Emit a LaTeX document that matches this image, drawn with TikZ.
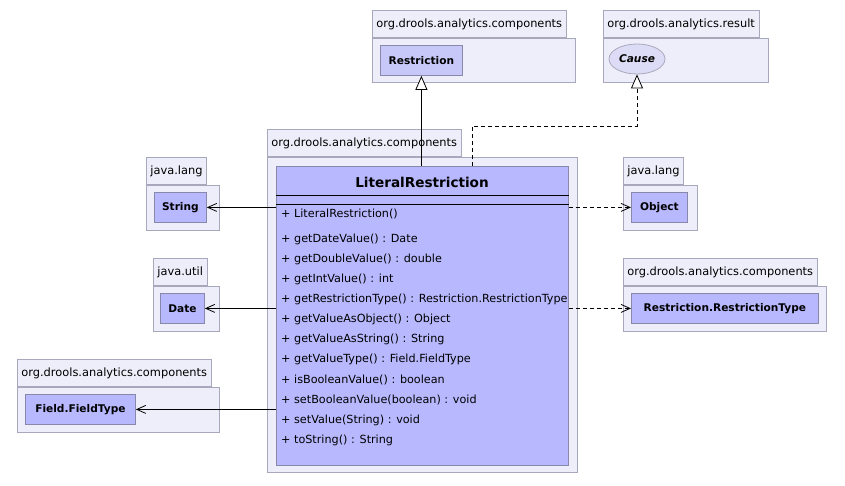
\documentclass[tikz,border=0pt]{standalone}
\usepackage{fontspec}
\setmainfont{DejaVu Sans}
\usepackage{xcolor}
\usetikzlibrary{arrows.meta,positioning,shapes.geometric}
\definecolor{pkgfill}{HTML}{EEEEFA}
\definecolor{pkgline}{HTML}{A8A8BC}
\definecolor{clsfill}{HTML}{B8B8FF}
\definecolor{clsline}{HTML}{8888AA}
\definecolor{supfill}{HTML}{C8C8F8}
\definecolor{ifcfill}{HTML}{DCDCF6}
\tikzset{
  pkgbody/.style={draw=pkgline, fill=pkgfill, line width=0.8pt, anchor=north west, inner sep=0pt},
  pkgtab/.style={draw=pkgline, fill=pkgfill, line width=0.8pt, anchor=south west,
    minimum height=27pt, inner xsep=4pt, font=\fontsize{11.4}{13}\selectfont},
  cls/.style={draw=clsline, fill=clsfill, line width=0.8pt, anchor=north west,
    minimum height=30pt, inner sep=0pt, font=\fontsize{10.6}{12}\selectfont\bfseries},
  ifc/.style={draw=pkgline, fill=ifcfill, line width=0.8pt, ellipse, inner sep=0pt,
    font=\fontsize{10.6}{12}\selectfont\bfseries\itshape},
  member/.style={anchor=west, inner sep=0pt, font=\fontsize{11.2}{13}\selectfont},
  assoc/.style={draw, line width=0.8pt, -{Straight Barb[length=9pt,width=8pt]}},
  dep/.style={assoc, dash pattern=on 4pt off 3pt},
  gen/.style={draw, line width=0.8pt, -{Triangle[open, length=14pt, width=12pt, fill=white]}},
  real/.style={gen, dash pattern=on 4pt off 3pt}
}
% #1 = name, #2/#3 = top left of body, #4 = width, #5 = height, #6 = package name
\newcommand{\PkgBox}[6]{%
  \node[pkgbody, minimum width=#4pt, minimum height=#5pt] (#1) at (#2,#3) {};
  \node[pkgtab] (#1tab) at (#1.north west) {#6};
}
\begin{document}
\begin{tikzpicture}[x=1pt, y=-1pt, line cap=butt, line join=miter]
  \useasboundingbox (0,0) rectangle (845,485);
  % packages
  \PkgBox{prestr}{372}{38}{203}{44}{org.drools.analytics.components}
  \PkgBox{pcause}{603}{38}{165}{44}{org.drools.analytics.result}
  \PkgBox{pmain}{267}{157}{310}{315}{org.drools.analytics.components}
  \PkgBox{pstring}{146}{185}{73}{45}{java.lang}
  \PkgBox{pdate}{153}{286}{66}{45}{java.util}
  \PkgBox{pfield}{17}{387}{202}{45}{org.drools.analytics.components}
  \PkgBox{pobject}{623}{185}{74}{45}{java.lang}
  \PkgBox{prtype}{623}{286}{203}{45}{org.drools.analytics.components}
  % classes
  \node[cls, fill=supfill, minimum width=82pt] (restr) at (380,45) {Restriction};
  \node[ifc, minimum width=56pt, minimum height=30pt] (cause) at (637,59) {Cause};
  \node[cls, minimum width=52pt] (strng) at (154,192) {String};
  \node[cls, minimum width=44pt] (date) at (160,293) {Date};
  \node[cls, minimum width=110pt] (ftype) at (25,394) {Field.FieldType};
  \node[cls, minimum width=56pt] (object) at (631,192) {Object};
  \node[cls, minimum width=187pt] (rtype) at (631,293) {Restriction.RestrictionType};
  % main class
  \node[cls, minimum width=292pt, minimum height=299pt] (lit) at (276,166) {};
  \node[font=\fontsize{13.6}{16}\selectfont\bfseries] (littitle) at (422,182) {LiteralRestriction};
  \draw[line width=0.8pt] (lit.west |- 0,195) -- (lit.east |- 0,195);
  \draw[line width=0.8pt] (lit.west |- 0,204) -- (lit.east |- 0,204);
  \node[member] (ctor) at (281,214) {+ LiteralRestriction()};
  \foreach \m [count=\i] in {getDateValue() : Date, getDoubleValue() : double,
      getIntValue() : int, getRestrictionType() : Restriction.RestrictionType,
      getValueAsObject() : Object, getValueAsString() : String,
      getValueType() : Field.FieldType, isBooleanValue() : boolean,
      setBooleanValue(boolean) : void, setValue(String) : void,
      toString() : String}
    \node[member] (m\i) at (281,219+20.1*\i) {+ \m};
  % connectors
  \draw[gen] (lit.north -| restr.south) -- (restr.south);
  \coordinate (realstart) at (472,166);
  \draw[real] (realstart) -- ++(0,-40) -| (cause.south);
  \draw[assoc] (lit.west |- strng.east) -- (strng.east);
  \draw[assoc] (lit.west |- date.east) -- (date.east);
  \draw[assoc] (lit.west |- ftype.east) -- (ftype.east);
  \draw[dep] (lit.east |- object.west) -- (object.west);
  \draw[dep] (lit.east |- rtype.west) -- (rtype.west);
\end{tikzpicture}
\end{document}
